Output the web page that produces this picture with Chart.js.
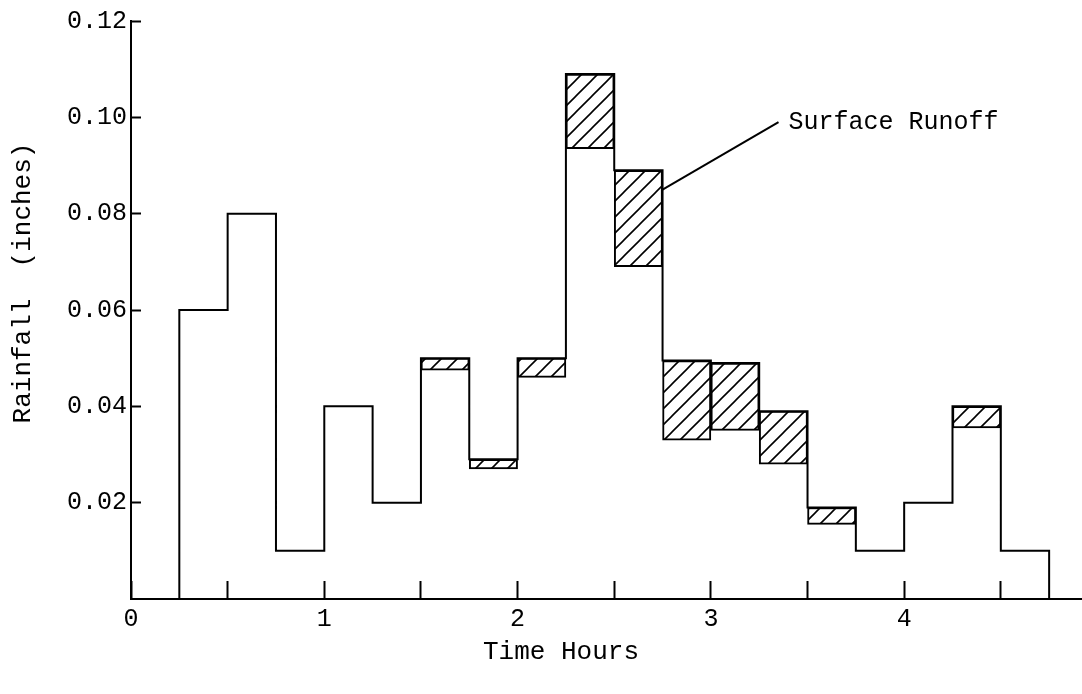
<!DOCTYPE html>
<html><head><meta charset="utf-8">
<script src="https://cdn.jsdelivr.net/npm/chart.js@4.4.1/dist/chart.umd.min.js"></script>
<style>html,body{margin:0;padding:0;background:#fff;}canvas{display:block}</style>
</head><body>
<canvas id="c" width="1082" height="694"></canvas>
<script>
// ---- data ----
const intervalStart = [0.25,0.5,0.75,1.0,1.25,1.5,1.75,2.0,2.25,2.5,2.75,3.0,3.25,3.5,3.75,4.0,4.25,4.5];
const intervalLength = 0.25;
const rainfall  = [0.060,0.080,0.010,0.040,0.020,0.050,0.029,0.050,0.109,0.089,0.0495,0.049,0.039,0.019,0.010,0.020,0.040,0.010];
const lossLevel = [null,null,null,null,null,0.0475,0.027,0.046,0.0935,0.069,0.033,0.035,0.028,0.0155,null,null,0.0355,null];
const xTickValues = [0,0.5,1,1.5,2,2.5,3,3.5,4,4.5];
const xTickLabels = ['0','','1','','2','','3','','4',''];
const yTickValues = [0.02,0.04,0.06,0.08,0.10,0.12];
const yTickLabels = ['0.02','0.04','0.06','0.08','0.10','0.12'];
const xAxisTitle = 'Time Hours';
const yAxisTitle = 'Rainfall  (inches)';
const annotationText = 'Surface Runoff';
const annotationTarget = {x: 2.75, y: 0.085};
const annotationAnchor = {x: 3.35, y: 0.099};

// ---- derived structures ----
const lastEnd = intervalStart[intervalStart.length - 1] + intervalLength;
const outline = [{x: intervalStart[0], y: 0}]
  .concat(intervalStart.map((s, i) => ({x: s, y: rainfall[i]})))
  .concat([{x: lastEnd, y: 0}]);
const runoffBars = [];
intervalStart.forEach((s, i) => {
  if (lossLevel[i] !== null) runoffBars.push({x: s + intervalLength / 2, y: [lossLevel[i], rainfall[i]]});
});

function hatchPattern() {
  const size = 16;
  const c = document.createElement('canvas');
  c.width = size; c.height = size;
  const g = c.getContext('2d');
  g.fillStyle = '#fff'; g.fillRect(0, 0, size, size);
  g.strokeStyle = '#000'; g.lineWidth = 1.6;
  g.beginPath();
  g.moveTo(-2, size + 2); g.lineTo(size + 2, -2);
  g.moveTo(-2, 2); g.lineTo(2, -2);
  g.moveTo(size - 2, size + 2); g.lineTo(size + 2, size - 2);
  g.stroke();
  return g.createPattern(c, 'repeat');
}

const FONT = '"Liberation Mono", "DejaVu Sans Mono", monospace';
Chart.defaults.font.family = FONT;
Chart.defaults.font.size = 25;
Chart.defaults.color = '#000';

const textPlugin = {
  id: 'hyetographText',
  afterDatasetsDraw(chart) {
    const {ctx, scales: {x, y}, chartArea} = chart;
    ctx.save();
    // leader line + label
    const x1 = x.getPixelForValue(annotationTarget.x), y1 = y.getPixelForValue(annotationTarget.y);
    const x2 = x.getPixelForValue(annotationAnchor.x), y2 = y.getPixelForValue(annotationAnchor.y);
    ctx.strokeStyle = '#000'; ctx.lineWidth = 2;
    ctx.beginPath(); ctx.moveTo(x1, y1); ctx.lineTo(x2, y2); ctx.stroke();
    ctx.fillStyle = '#000';
    ctx.font = '25px ' + FONT;
    ctx.textAlign = 'left'; ctx.textBaseline = 'middle';
    ctx.fillText(annotationText, x2 + 10, y2);
    // axis titles
    ctx.textAlign = 'center';
    ctx.font = '26px ' + FONT;
    ctx.fillText(xAxisTitle, chartArea.left + 430, chartArea.bottom + 53);
    ctx.translate(23, chartArea.top + 262);
    ctx.rotate(-Math.PI / 2);
    ctx.fillText(yAxisTitle, 0, 0);
    ctx.restore();
  }
};

new Chart(document.getElementById('c'), {
  type: 'bar',
  data: {
    datasets: [
      {
        type: 'line',
        data: outline,
        stepped: 'before',
        borderColor: '#000',
        borderWidth: 2,
        pointRadius: 0,
        fill: false,
        order: 0
      },
      {
        type: 'bar',
        data: runoffBars,
        backgroundColor: hatchPattern(),
        borderColor: '#000',
        borderWidth: 2,
        borderSkipped: false,
        barPercentage: 1,
        categoryPercentage: 1,
        order: 1
      }
    ]
  },
  options: {
    responsive: false,
    animation: false,
    devicePixelRatio: 1,
    layout: {padding: {top: 21, right: 0, left: 0, bottom: 0}},
    plugins: {legend: {display: false}, tooltip: {enabled: false}},
    scales: {
      x: {
        type: 'linear',
        min: 0,
        max: 4.92,
        offset: false,
        afterBuildTicks: s => { s.ticks = xTickValues.map(v => ({value: v})); },
        afterFit: s => { s.height = 95; s.paddingLeft = 0; s.paddingRight = 0; },
        grid: {drawOnChartArea: false, drawTicks: true, tickLength: -18, tickColor: '#000', tickWidth: 2, offset: false},
        border: {display: true, color: '#000', width: 2},
        ticks: {autoSkip: false, maxRotation: 0, padding: 23, color: '#000', callback: (v, i) => xTickLabels[i]},
        title: {display: false, text: xAxisTitle}
      },
      y: {
        min: 0,
        max: 0.12,
        afterBuildTicks: s => { s.ticks = yTickValues.map(v => ({value: v})); },
        afterFit: s => { s.width = 131; s.paddingTop = 0; s.paddingBottom = 0; },
        grid: {drawOnChartArea: false, drawTicks: true, tickLength: -10, tickColor: '#000', tickWidth: 2},
        border: {display: true, color: '#000', width: 2},
        ticks: {autoSkip: false, padding: 14, color: '#000', callback: (v, i) => yTickLabels[i]},
        title: {display: false, text: yAxisTitle}
      }
    }
  },
  plugins: [textPlugin]
});
</script>
</body></html>
